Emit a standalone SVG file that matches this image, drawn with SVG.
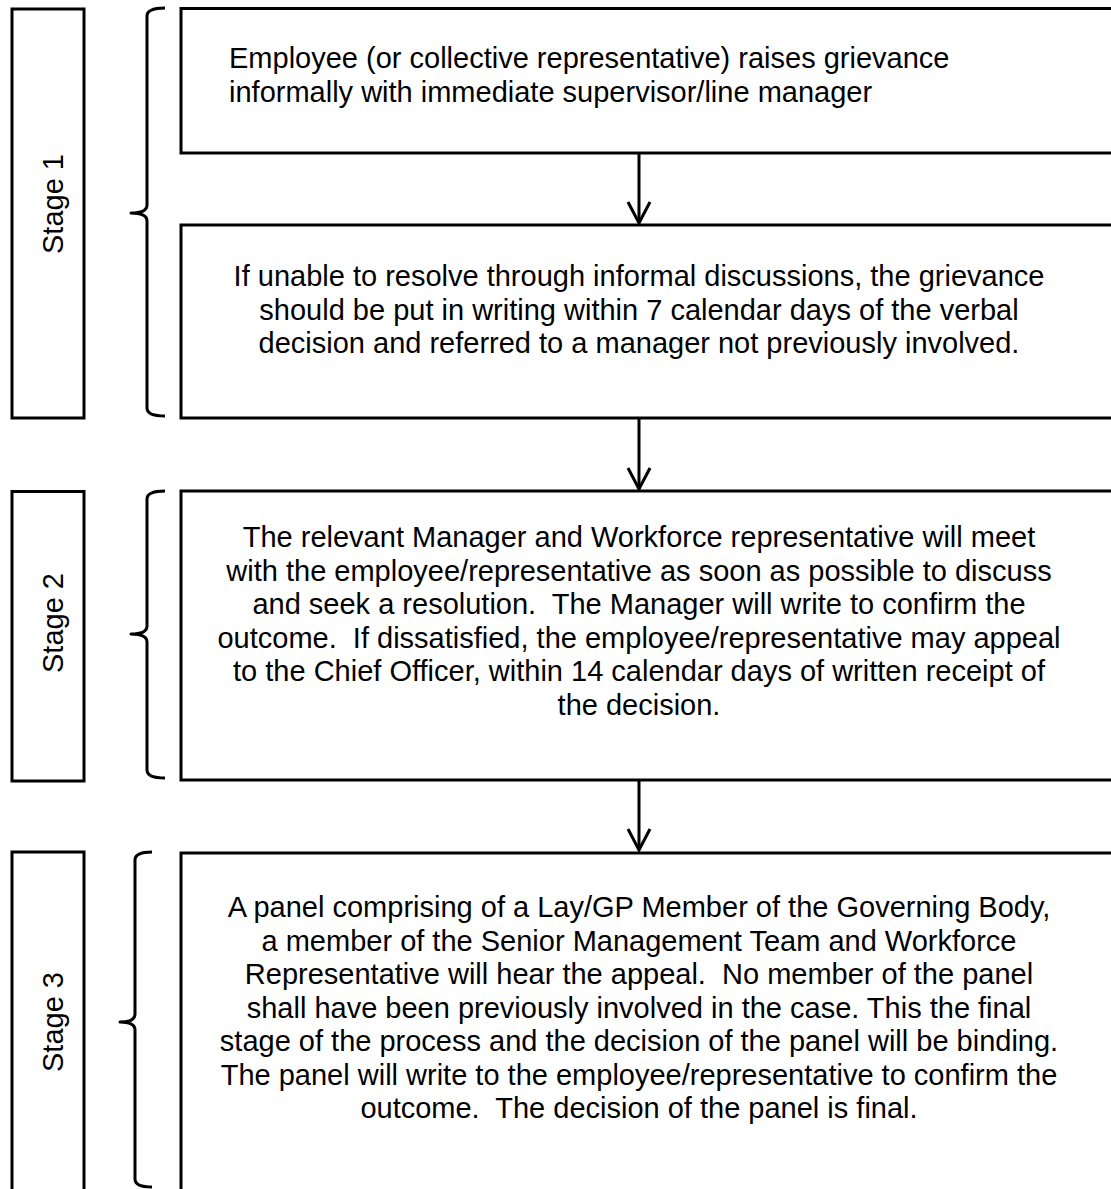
<svg xmlns="http://www.w3.org/2000/svg" width="1111" height="1189" viewBox="0 0 1111 1189">
<style>
.box{fill:#fff;stroke:#000;stroke-width:3}
.br{fill:none;stroke:#000;stroke-width:3;stroke-linejoin:round}
.t{font-family:"Liberation Sans",Arial,sans-serif;font-size:29px;fill:#000;white-space:pre}
.c{text-anchor:middle}
.lbl{font-family:"Liberation Sans",Arial,sans-serif;font-size:29px;fill:#000;text-anchor:middle}
.con{stroke:#000;stroke-width:3;fill:none}
</style>
<defs>
<marker id="ah" markerUnits="userSpaceOnUse" markerWidth="30" markerHeight="30" orient="auto" overflow="visible" refX="0" refY="0">
<path d="M-21,-11 L0,0 L-21,11" fill="none" stroke="#000" stroke-width="3"/>
</marker>
</defs>
<rect width="1111" height="1189" fill="#fff"/>

<g id="stage1">
<rect class="box" x="12" y="9" width="72" height="409"/>
<text class="lbl" transform="translate(63,204) rotate(-90)">Stage 1</text>
<path class="br" d="M165,8 Q147,8 147,16 L147,205 Q147,213 131,213 Q147,213 147,221 L147,408 Q147,416 165,416"/>
</g>

<g id="stage2">
<rect class="box" x="12" y="491.5" width="72" height="289.5"/>
<text class="lbl" transform="translate(63,623) rotate(-90)">Stage 2</text>
<path class="br" d="M165,491 Q147,491 147,499 L147,626 Q147,634 131,634 Q147,634 147,642 L147,770 Q147,778 165,778"/>
</g>

<g id="stage3">
<rect class="box" x="12" y="852" width="72" height="360"/>
<text class="lbl" transform="translate(63,1022) rotate(-90)">Stage 3</text>
<path class="br" d="M152,852 Q135,852 135,860 L135,1014 Q135,1022 120,1022 Q135,1022 135,1030 L135,1179 Q135,1187 152,1187"/>
</g>

<g id="n1">
<rect class="box" x="181" y="8.5" width="960" height="144.5"/>
<text class="t" x="229" y="68">Employee (or collective representative) raises grievance<tspan x="229" dy="33.5">informally with immediate supervisor/line manager</tspan></text>
</g>

<g id="n2">
<rect class="box" x="181" y="225" width="960" height="193"/>
<text class="t c" x="639" y="286">If unable to resolve through informal discussions, the grievance<tspan x="639" dy="33.5">should be put in writing within 7 calendar days of the verbal</tspan><tspan x="639" dy="33.5">decision and referred to a manager not previously involved.</tspan></text>
</g>

<g id="n3">
<rect class="box" x="181" y="491" width="960" height="289"/>
<text class="t c" x="639" y="547">The relevant Manager and Workforce representative will meet<tspan x="639" dy="33.6">with the employee/representative as soon as possible to discuss</tspan><tspan x="639" dy="33.6">and seek a resolution.  The Manager will write to confirm the</tspan><tspan x="639" dy="33.6">outcome.  If dissatisfied, the employee/representative may appeal</tspan><tspan x="639" dy="33.6">to the Chief Officer, within 14 calendar days of written receipt of</tspan><tspan x="639" dy="33.6">the decision.</tspan></text>
</g>

<g id="n4">
<rect class="box" x="181" y="853" width="960" height="360"/>
<text class="t c" x="639" y="917">A panel comprising of a Lay/GP Member of the Governing Body,<tspan x="639" dy="33.5">a member of the Senior Management Team and Workforce</tspan><tspan x="639" dy="33.5">Representative will hear the appeal.  No member of the panel</tspan><tspan x="639" dy="33.5">shall have been previously involved in the case. This the final</tspan><tspan x="639" dy="33.5">stage of the process and the decision of the panel will be binding.</tspan><tspan x="639" dy="33.5">The panel will write to the employee/representative to confirm the</tspan><tspan x="639" dy="33.5">outcome.  The decision of the panel is final.</tspan></text>
</g>

<g id="connectors">
<line class="con" x1="639" y1="153" x2="639" y2="223" marker-end="url(#ah)"/>
<line class="con" x1="639" y1="418" x2="639" y2="489" marker-end="url(#ah)"/>
<line class="con" x1="639" y1="780" x2="639" y2="850" marker-end="url(#ah)"/>
</g>
</svg>
